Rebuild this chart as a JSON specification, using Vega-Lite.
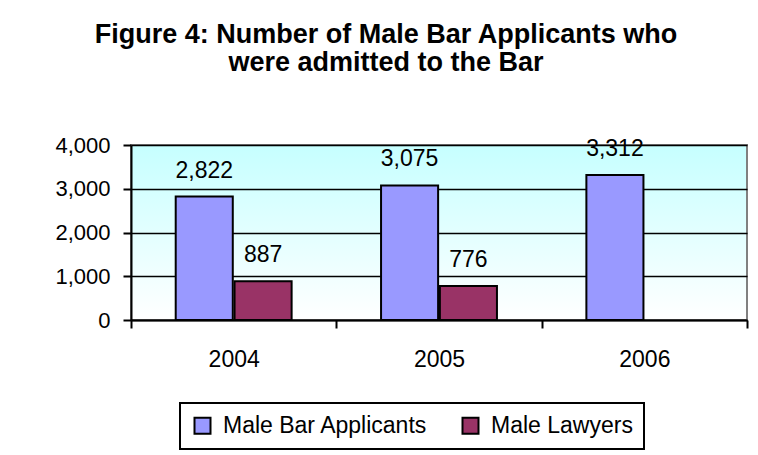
{
  "$schema": "https://vega.github.io/schema/vega-lite/v6.json",
  "autosize": "none",
  "width": 616,
  "height": 175,
  "padding": {"left": 131, "top": 145, "right": 11, "bottom": 135},
  "background": "white",
  "title": {
    "text": ["Figure 4: Number of Male Bar Applicants who", "were admitted to the Bar"],
    "anchor": "middle",
    "frame": "group",
    "dx": -53,
    "offset": 57,
    "font": "Liberation Sans",
    "fontSize": 27,
    "fontWeight": "bold",
    "lineHeight": 28,
    "color": "black"
  },
  "data": {
    "values": [
      {"year": "2004", "series": "Male Bar Applicants", "value": 2822},
      {"year": "2004", "series": "Male Lawyers", "value": 887},
      {"year": "2005", "series": "Male Bar Applicants", "value": 3075},
      {"year": "2005", "series": "Male Lawyers", "value": 776},
      {"year": "2006", "series": "Male Bar Applicants", "value": 3312}
    ]
  },
  "encoding": {
    "x": {
      "field": "year", "type": "nominal",
      "scale": {"paddingInner": 0, "paddingOuter": 0},
      "axis": {
        "title": null, "labelAngle": 0, "tickBand": "extent",
        "domainColor": "black", "domainWidth": 2,
        "tickColor": "black", "tickWidth": 2, "tickSize": 8,
        "labelFont": "Liberation Sans", "labelFontSize": 23, "labelColor": "black",
        "labelBaseline": "alphabetic", "labelPadding": 38
      }
    },
    "xOffset": {
      "field": "series", "type": "nominal",
      "scale": {"paddingInner": 0.03, "paddingOuter": 0.76}
    },
    "y": {
      "field": "value", "type": "quantitative",
      "scale": {"domain": [0, 4000], "nice": false},
      "axis": {
        "title": null, "values": [0, 1000, 2000, 3000, 4000], "format": ",.0f",
        "grid": true, "gridColor": "black", "gridWidth": 1.5, "gridOpacity": 1,
        "domainColor": "black", "domainWidth": 2,
        "tickColor": "black", "tickWidth": 2, "tickSize": 8,
        "labelFont": "Liberation Sans", "labelFontSize": 22, "labelColor": "black",
        "labelPadding": 13
      }
    }
  },
  "layer": [
    {
      "mark": {"type": "bar", "stroke": "black", "strokeWidth": 2},
      "encoding": {
        "color": {
          "field": "series", "type": "nominal",
          "scale": {"domain": ["Male Bar Applicants", "Male Lawyers"], "range": ["#9999FF", "#993366"]},
          "legend": {
            "title": null, "orient": "none", "direction": "horizontal",
            "legendX": 49, "legendY": 258,
            "padding": 11,
            "strokeColor": "black",
            "fillColor": "white",
            "symbolType": "square", "symbolSize": 256,
            "symbolStrokeColor": "black", "symbolStrokeWidth": 2,
            "labelFont": "Liberation Sans", "labelFontSize": 23, "labelColor": "black",
            "labelLimit": 500,
            "labelOffset": 9, "columnPadding": 30
          }
        }
      }
    },
    {
      "mark": {"type": "text", "dy": -19, "baseline": "alphabetic", "font": "Liberation Sans", "fontSize": 23, "color": "black"},
      "encoding": {
        "text": {"field": "value", "type": "quantitative", "format": ",.0f"}
      }
    }
  ],
  "config": {
    "view": {
      "stroke": "#808080",
      "strokeWidth": 2,
      "fill": {
        "gradient": "linear",
        "x1": 0, "y1": 1, "x2": 0, "y2": 0,
        "stops": [
          {"offset": 0, "color": "#ffffff"},
          {"offset": 1, "color": "#c6ffff"}
        ]
      }
    },
    "legend": {"strokeWidth": 2}
  }
}
